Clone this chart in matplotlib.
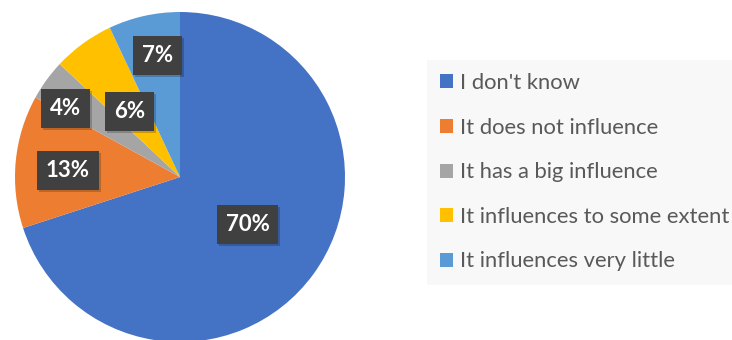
import numpy as np
import matplotlib.pyplot as plt
from matplotlib import patheffects as pe

plt.rcParams['font.family'] = ['Lato', 'DejaVu Sans']

categories = ["I don't know", "It does not influence", "It has a big influence",
              "It influences to some extent", "It influences very little"]
values = [70, 13, 4, 6, 7]
colors = ["#4472C4", "#ED7D31", "#A5A5A5", "#FFC000", "#5B9BD5"]
# label placement: fraction of radius, and angle nudge (deg) from wedge middle
label_dist = [0.50, 0.68, 0.81, 0.50, 0.75]
label_turn = [1, 2, 5, 1.5, -2]

W, H = 732, 340
fig = plt.figure(figsize=(W / 100, H / 100), dpi=100)
ax = fig.add_axes([0, 0, 1, 1])

R = 165
cx, cy = 180, H - 177
wedges, texts = ax.pie(values, colors=colors, startangle=90, counterclock=False,
                       center=(cx, cy), radius=R,
                       wedgeprops=dict(linewidth=0))

for w, v, d, a in zip(wedges, values, label_dist, label_turn):
    ang = np.deg2rad((w.theta1 + w.theta2) / 2 + a)
    x = cx + d * R * np.cos(ang)
    y = cy + d * R * np.sin(ang)
    t = ax.text(x, y, f"{v}%", ha="center", va="center", color="white",
                fontsize=16, fontweight="bold",
                bbox=dict(boxstyle="square,pad=0.4", facecolor="#404040",
                          edgecolor="none"))
    t.get_bbox_patch().set_path_effects([
        pe.SimplePatchShadow(offset=(1.5, -1.5), shadow_rgbFace="#000000", alpha=0.2),
        pe.Normal()])

ax.set_xlim(0, W)
ax.set_ylim(0, H)
ax.set_aspect("equal")
ax.axis("off")

leg = fig.legend(wedges, categories, loc="upper left",
                 bbox_to_anchor=(427 / W, 1 - 60 / H),
                 fontsize=15.8, frameon=True, fancybox=False,
                 handlelength=0.6, handleheight=0.6, handletextpad=0.3,
                 labelspacing=1.12, borderpad=0.6, borderaxespad=0)
leg.get_frame().set_facecolor("#F7F7F7")
leg.get_frame().set_edgecolor("none")
for t in leg.get_texts():
    t.set_color("#595959")

fig.savefig("out.png", dpi=100)
